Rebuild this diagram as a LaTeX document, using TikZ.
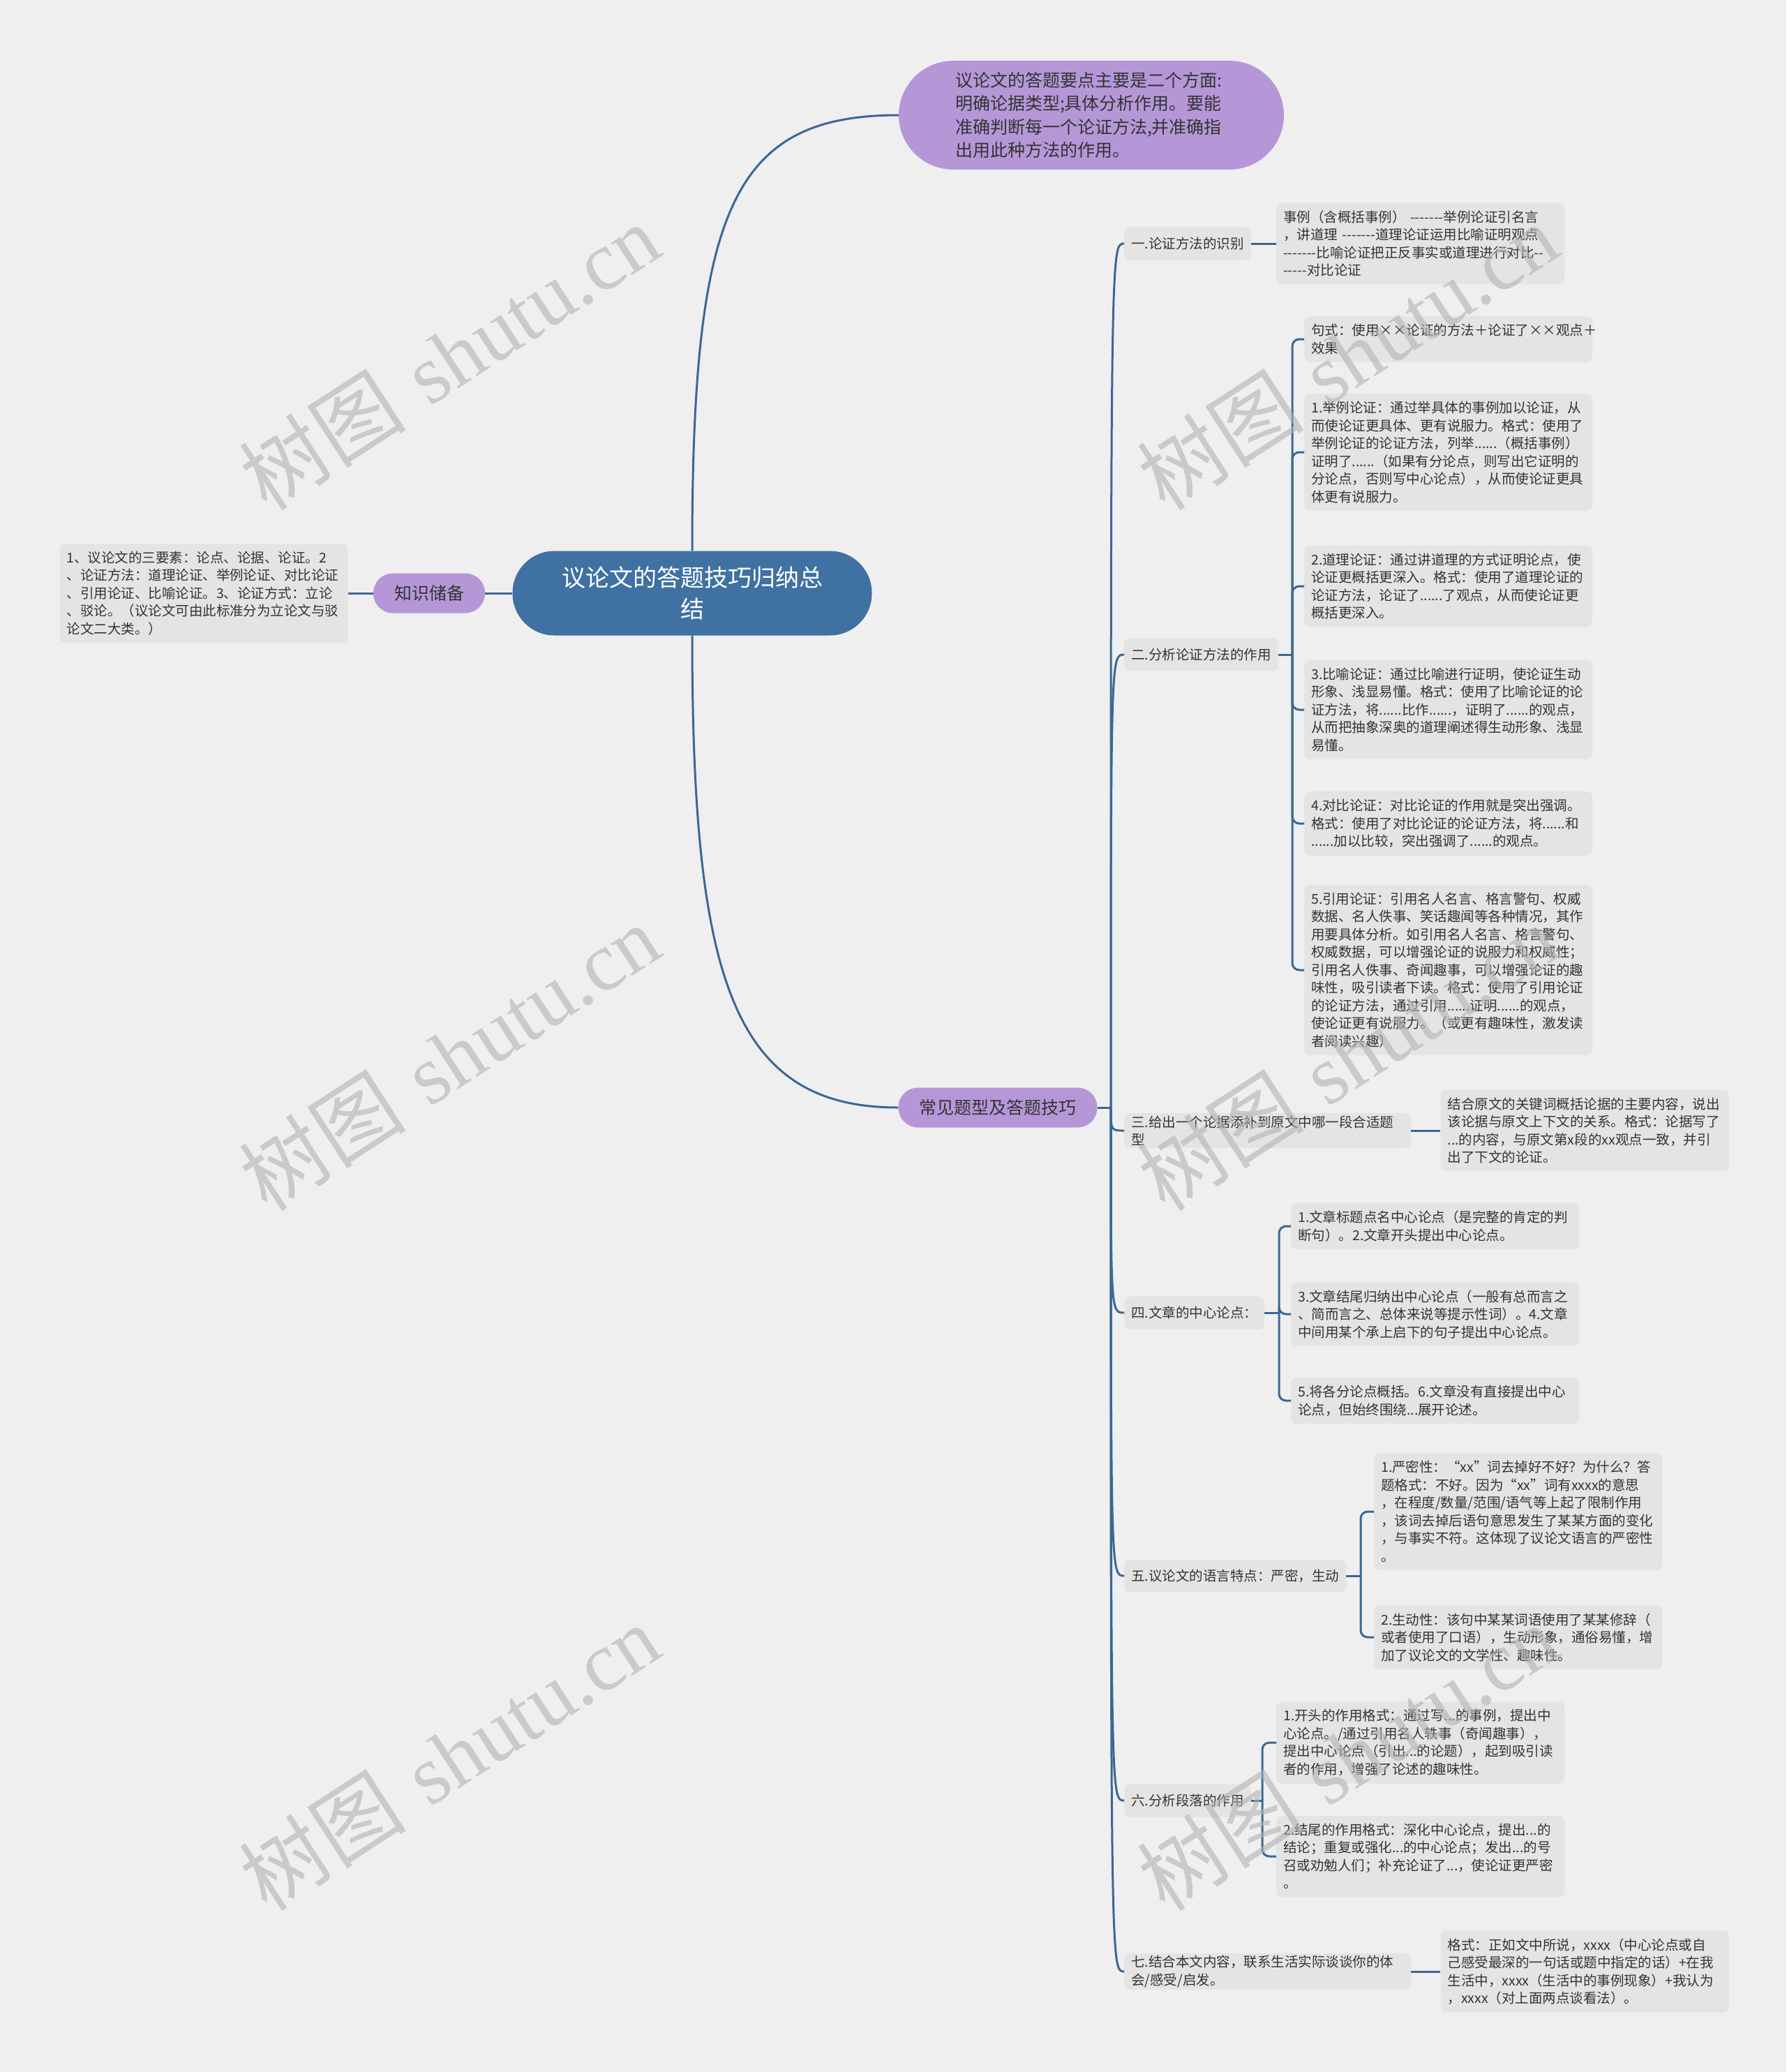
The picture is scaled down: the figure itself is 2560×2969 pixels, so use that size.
\documentclass[tikz,border=0pt]{standalone}
\usepackage{fontspec}
\newfontfamily\cjk{Noto Sans CJK SC}
\newfontfamily\wmfont{Liberation Serif}
\usetikzlibrary{positioning}
\definecolor{bgcol}{HTML}{EFEFEF}
\definecolor{boxcol}{HTML}{E4E4E4}
\definecolor{linecol}{HTML}{3A6895}
\definecolor{rootcol}{HTML}{3F71A2}
\definecolor{pillcol}{HTML}{B597D8}
\definecolor{txtcol}{HTML}{333333}
\tikzset{
  link/.style={draw=linecol, line width=3pt},
  leaf/.style={fill=boxcol, rounded corners=8pt, text=txtcol, font=\cjk\fontsize{19.5}{25.5}\selectfont,
    text width=393pt, inner xsep=10pt, inner ysep=11pt, align=left, anchor=west},
  topic/.style={fill=boxcol, rounded corners=8pt, text=txtcol, font=\cjk\fontsize{19.5}{25.5}\selectfont,
    inner xsep=10pt, minimum height=47pt, align=left, anchor=west},
  pill/.style={fill=pillcol, rounded corners=28pt, text=txtcol, font=\cjk\fontsize{25}{30}\selectfont,
    inner xsep=30pt, minimum height=57pt},
  wm/.style={rotate=33, text=black!30, opacity=0.6, font=\fontsize{120}{130}\selectfont}
}
\begin{document}
\begin{tikzpicture}[x=1pt,y=-1pt]
\useasboundingbox (0,0) rectangle (2560,2969);
\fill[bgcol] (0,0) rectangle (2560,2969);

\node[fill=rootcol, text=white, rounded corners=60pt, minimum width=515pt, minimum height=121pt,
  align=center, font=\cjk\fontsize{34}{45}\selectfont] (root) at (992,850) {议论文的答题技巧归纳总\\结};

\node[pill] (store) at (615,850) {知识储备};
\node[leaf, anchor=center] (storeA) at (292,850) {1、议论文的三要素：论点、论据、论证。2\\、论证方法：道理论证、举例论证、对比论证\\、引用论证、比喻论证。3、论证方式：立论\\、驳论。（议论文可由此标准分为立论文与驳\\论文二大类。）};

\node[pill, text width=390pt, inner xsep=81pt, inner ysep=16pt, rounded corners=78pt, align=left,
  font=\cjk\fontsize{25}{33.5}\selectfont] (aim) at (1564,165) {议论文的答题要点主要是二个方面:\\明确论据类型;具体分析作用。要能\\准确判断每一个论证方法,并准确指\\出用此种方法的作用。};

\node[pill] (skill) at (1430,1587) {常见题型及答题技巧};
\coordinate (hub) at (1592,1587);

\node[topic] (t1) at (1611,349) {一.论证方法的识别};
\node[leaf] (t1a) at (1829,349) {事例（含概括事例） -------举例论证引名言\\，讲道理 -------道理论证运用比喻证明观点\\-------比喻论证把正反事实或道理进行对比--\\-----对比论证};

\node[topic] (t2) at (1611,938) {二.分析论证方法的作用};
\node[leaf] (t2a) at (1869,486) {句式：使用××论证的方法＋论证了××观点＋\\效果};
\node[leaf] (t2b) at (1869,648) {1.举例论证：通过举具体的事例加以论证，从\\而使论证更具体、更有说服力。格式：使用了\\举例论证的论证方法，列举......（概括事例）\\证明了......（如果有分论点，则写出它证明的\\分论点，否则写中心论点），从而使论证更具\\体更有说服力。};
\node[leaf] (t2c) at (1869,840) {2.道理论证：通过讲道理的方式证明论点，使\\论证更概括更深入。格式：使用了道理论证的\\论证方法，论证了......了观点，从而使论证更\\概括更深入。};
\node[leaf] (t2d) at (1869,1017) {3.比喻论证：通过比喻进行证明，使论证生动\\形象、浅显易懂。格式：使用了比喻论证的论\\证方法，将......比作......，证明了......的观点，\\从而把抽象深奥的道理阐述得生动形象、浅显\\易懂。};
\node[leaf] (t2e) at (1869,1180) {4.对比论证：对比论证的作用就是突出强调。\\格式：使用了对比论证的论证方法，将......和\\......加以比较，突出强调了......的观点。};
\node[leaf] (t2f) at (1869,1390) {5.引用论证：引用名人名言、格言警句、权威\\数据、名人佚事、笑话趣闻等各种情况，其作\\用要具体分析。如引用名人名言、格言警句、\\权威数据，可以增强论证的说服力和权威性；\\引用名人佚事、奇闻趣事，可以增强论证的趣\\味性，吸引读者下读。格式：使用了引用论证\\的论证方法，通过引用......证明......的观点，\\使论证更有说服力。（或更有趣味性，激发读\\者阅读兴趣）};

\node[topic, text width=391pt] (t3) at (1611,1620) {三.给出一个论据添补到原文中哪一段合适题\\型};
\node[leaf, right=42pt of t3] (t3a) {结合原文的关键词概括论据的主要内容，说出\\该论据与原文上下文的关系。格式：论据写了\\...的内容，与原文第x段的xx观点一致，并引\\出了下文的论证。};

\node[topic] (t4) at (1611,1881) {四.文章的中心论点：};
\node[leaf] (t4a) at (1850,1757) {1.文章标题点名中心论点（是完整的肯定的判\\断句）。2.文章开头提出中心论点。};
\node[leaf] (t4b) at (1850,1883) {3.文章结尾归纳出中心论点（一般有总而言之\\、简而言之、总体来说等提示性词）。4.文章\\中间用某个承上启下的句子提出中心论点。};
\node[leaf] (t4c) at (1850,2007) {5.将各分论点概括。6.文章没有直接提出中心\\论点，但始终围绕...展开论述。};

\node[topic] (t5) at (1611,2258) {五.议论文的语言特点：严密，生动};
\node[leaf] (t5a) at (1969,2166) {1.严密性：“xx”词去掉好不好？为什么？答\\题格式：不好。因为“xx”词有xxxx的意思\\，在程度/数量/范围/语气等上起了限制作用\\，该词去掉后语句意思发生了某某方面的变化\\，与事实不符。这体现了议论文语言的严密性\\。};
\node[leaf] (t5b) at (1969,2346) {2.生动性：该句中某某词语使用了某某修辞（\\或者使用了口语），生动形象，通俗易懂，增\\加了议论文的文学性、趣味性。};

\node[topic] (t6) at (1611,2580) {六.分析段落的作用};
\node[leaf] (t6a) at (1829,2497) {1.开头的作用格式：通过写...的事例，提出中\\心论点。/通过引用名人轶事（奇闻趣事），\\提出中心论点（引出...的论题），起到吸引读\\者的作用，增强了论述的趣味性。};
\node[leaf] (t6b) at (1829,2660) {2.结尾的作用格式：深化中心论点，提出...的\\结论；重复或强化...的中心论点；发出...的号\\召或劝勉人们；补充论证了...，使论证更严密\\。};

\node[topic, text width=391pt] (t7) at (1611,2825) {七.结合本文内容，联系生活实际谈谈你的体\\会/感受/启发。};
\node[leaf, right=42pt of t7] (t7a) {格式：正如文中所说，xxxx（中心论点或自\\己感受最深的一句话或题中指定的话）+在我\\生活中，xxxx（生活中的事例现象）+我认为\\，xxxx（对上面两点谈看法）。};

\draw[link] (root) -- (store);
\draw[link] (store) -- (storeA);
\draw[link] (root.north) .. controls +(0,-490) and +(-238,0) .. (aim.west);
\draw[link] (root.south) .. controls +(0,490) and +(-238,0) .. (skill.west);
\draw[link] (skill.east) -- (hub);
\foreach \tp in {t1,t2,t3,t4,t5,t6,t7}
  \draw[link] (hub) .. controls (hub |- \tp.west) .. (\tp.west);
\draw[link] (t1) -- (t1a);
\draw[link] (t3) -- (t3a);
\draw[link] (t7) -- (t7a);

\path (t2a.west |- t2.east) ++(-17,0) coordinate (b2);
\path (t4a.west |- t4.east) ++(-17,0) coordinate (b4);
\path (t5a.west |- t5.east) ++(-19,0) coordinate (b5);
\path (t6a.west |- t6.east) ++(-20,0) coordinate (b6);
\draw[link] (t2) -- (b2);
\draw[link] (t4) -- (b4);
\draw[link] (t5) -- (b5);
\draw[link] (t6) -- (b6);
\foreach \leafname in {t2a,t2b,t2c,t2d,t2e,t2f}
  \draw[link, rounded corners=10pt] (b2) |- (\leafname.west);
\foreach \leafname in {t4a,t4b,t4c}
  \draw[link, rounded corners=10pt] (b4) |- (\leafname.west);
\foreach \leafname in {t5a,t5b}
  \draw[link, rounded corners=10pt] (b5) |- (\leafname.west);
\foreach \leafname in {t6a,t6b}
  \draw[link, rounded corners=10pt] (b6) |- (\leafname.west);

\foreach \wx in {644,1931}
  \foreach \wy in {511,1515,2518}
    \node[wm] (wm\wx\wy) at (\wx,\wy) {{\cjk 树图} {\wmfont shutu.cn}};
\end{tikzpicture}
\end{document}
